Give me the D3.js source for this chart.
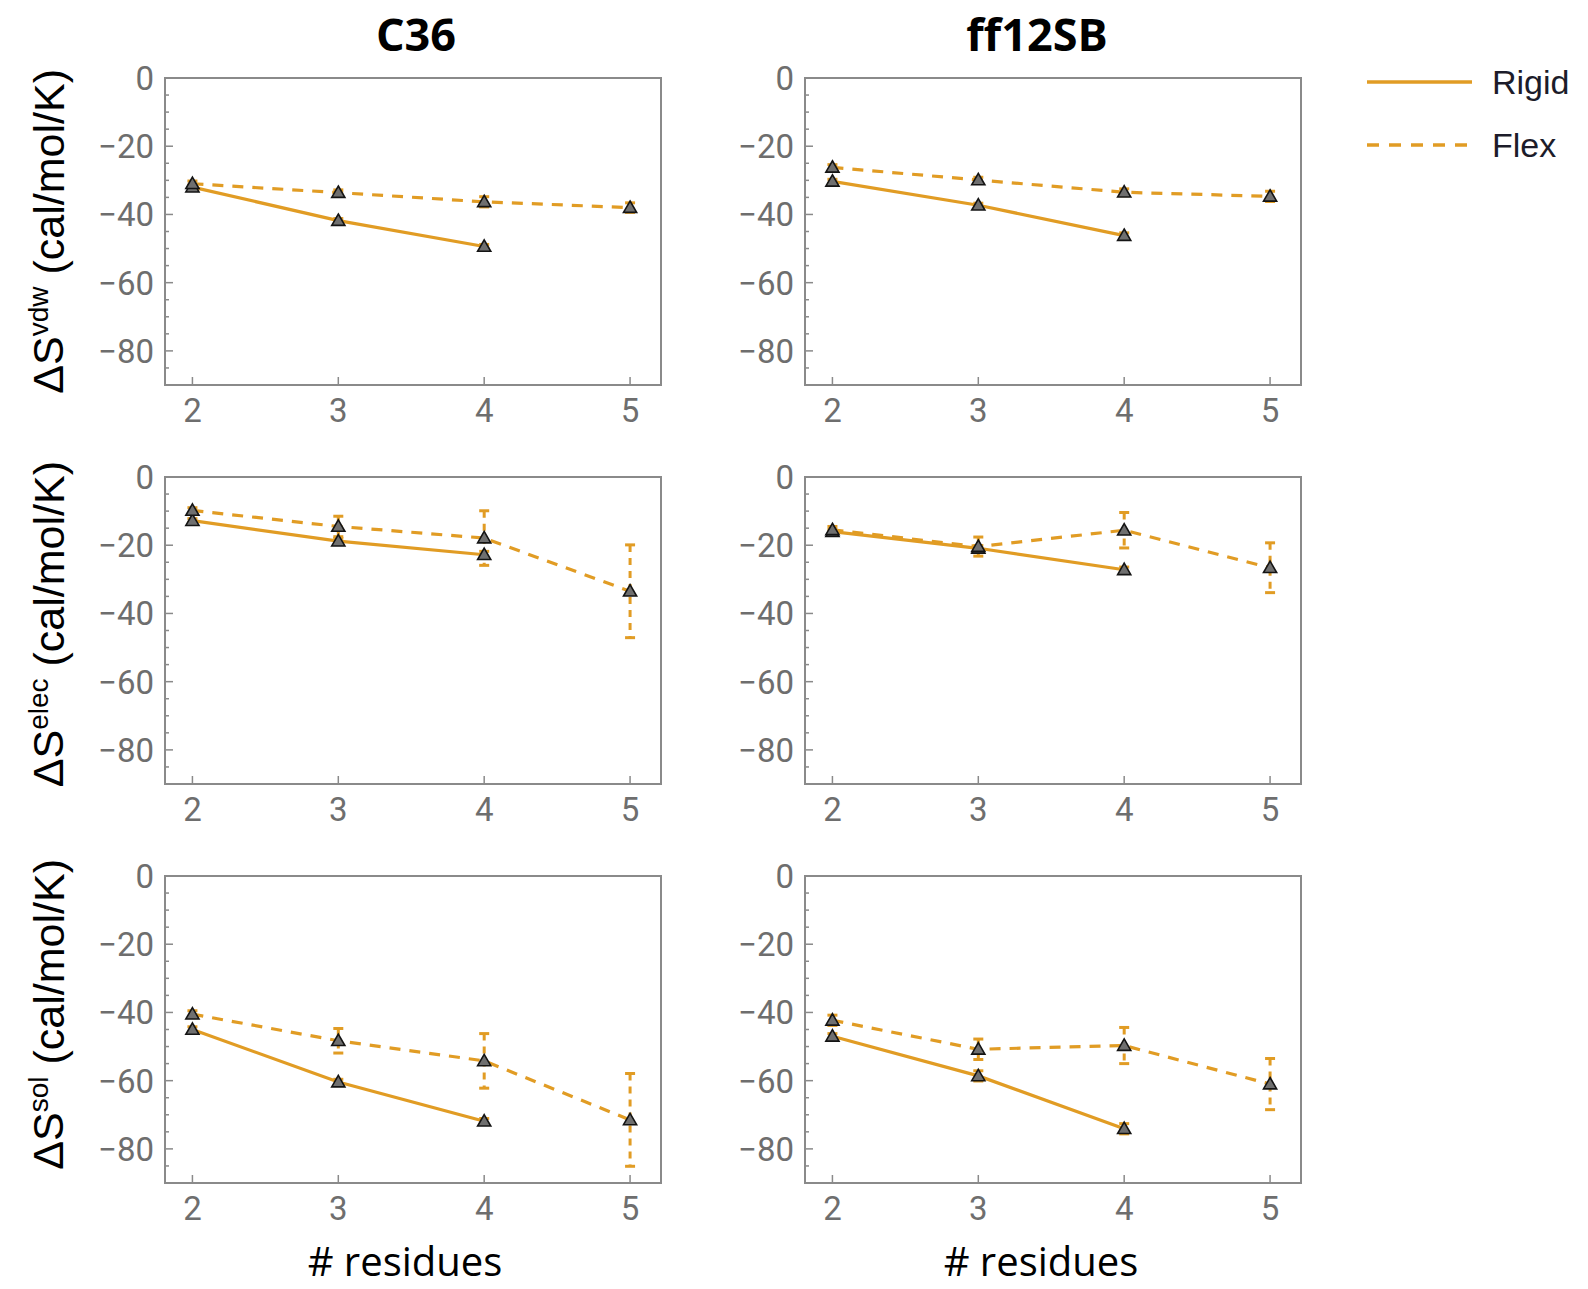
<!DOCTYPE html>
<html><head><meta charset="utf-8">
<script src="https://cdn.jsdelivr.net/npm/d3@7"></script>
<style>body{margin:0;background:#fff}</style>
</head><body><svg id="chart" width="1588" height="1289"></svg>
<script>
// Entropy components vs. peptide length for two force fields
const xTicks = [2, 3, 4, 5];
const rigidResidues = [2, 3, 4];
const flexResidues = [2, 3, 4, 5];
const forceFields = ["C36", "ff12SB"];
const terms = ["vdw", "elec", "sol"];
const yTicks = [0, -20, -40, -60, -80];
const seriesNames = ["Rigid", "Flex"];

// ΔS values in cal/mol/K: [C36, ff12SB]
const vdwRigid = [[-32.0, -41.8, -49.4], [-30.3, -37.3, -46.2]];
const vdwRigidErr = [[0.6, 0.6, 0.6], [0.6, 0.6, 0.8]];
const vdwFlex = [[-31.0, -33.6, -36.3, -38.0], [-26.2, -29.9, -33.5, -34.7]];
const vdwFlexErr = [[0.8, 0.8, 1.5, 1.4], [0.8, 0.8, 1.0, 1.5]];

const elecRigid = [[-12.8, -18.8, -22.8], [-16.0, -20.9, -27.2]];
const elecRigidErr = [[0.6, 0.8, 1.0], [0.6, 0.8, 0.8]];
const elecFlex = [[-9.8, -14.5, -17.9, -33.5], [-15.5, -20.4, -15.6, -26.6]];
const elecFlexErr = [[0.8, 3.0, 8.0, 13.6], [1.0, 2.8, 5.2, 7.3]];

const solRigid = [[-45.0, -60.4, -71.9], [-47.0, -58.6, -74.1]];
const solRigidErr = [[0.8, 0.8, 0.8], [0.8, 1.5, 1.5]];
const solFlex = [[-40.5, -48.3, -54.2, -71.5], [-42.3, -50.8, -49.7, -61.0]];
const solFlexErr = [[1.0, 3.6, 8.0, 13.6], [1.5, 3.0, 5.3, 7.5]];

const rigidData = [vdwRigid, elecRigid, solRigid];
const rigidErrData = [vdwRigidErr, elecRigidErr, solRigidErr];
const flexData = [vdwFlex, elecFlex, solFlex];
const flexErrData = [vdwFlexErr, elecFlexErr, solFlexErr];

const svg = d3.select("#chart");
const orange = "#E19C24";
const frameColor = "#8a8a8a";
const tickColor = "#6e6e6e";
const dash = "11,9";

const colLeft = [165, 805];
const panelW = 496;
const rowTop = [78, 477, 876];
const panelH = 307;
const labelTop = [69, 461, 859];
const titleX = [416, 1037];
const xTitleX = [405, 1041];

function drawPanel(row, col) {
  const x0 = colLeft[col], y0 = rowTop[row];
  const x = d3.scaleLinear().domain([1.812, 5.212]).range([x0, x0 + panelW]);
  const y = d3.scaleLinear().domain([-90, 0]).range([y0 + panelH, y0]);
  const g = svg.append("g");

  // minor y ticks
  const minor = d3.range(-85, 0, 5).filter(v => v % 20 !== 0);
  g.selectAll(".minor").data(minor).join("line")
    .attr("x1", x0).attr("x2", x0 + 4)
    .attr("y1", d => y(d)).attr("y2", d => y(d))
    .attr("stroke", frameColor).attr("stroke-width", 1.5);
  g.selectAll(".major").data(yTicks).join("line")
    .attr("x1", x0).attr("x2", x0 + 8)
    .attr("y1", d => y(d)).attr("y2", d => y(d))
    .attr("stroke", frameColor).attr("stroke-width", 1.5);
  g.selectAll(".xt").data(xTicks).join("line")
    .attr("x1", d => x(d)).attr("x2", d => x(d))
    .attr("y1", y0 + panelH).attr("y2", y0 + panelH - 8)
    .attr("stroke", frameColor).attr("stroke-width", 1.5);

  // tick labels
  g.selectAll(".yl").data(yTicks).join("text")
    .attr("x", x0 - 11).attr("y", d => y(d)).attr("dy", "0.36em")
    .attr("text-anchor", "end")
    .attr("font-family", "Roboto, sans-serif").attr("font-size", 33)
    .attr("fill", tickColor)
    .text(d => d === 0 ? "0" : "\u2212" + Math.abs(d));
  g.selectAll(".xl").data(xTicks).join("text")
    .attr("x", d => x(d)).attr("y", y0 + panelH + 37)
    .attr("text-anchor", "middle")
    .attr("font-family", "Roboto, sans-serif").attr("font-size", 33)
    .attr("fill", tickColor)
    .text(d => d);

  g.append("rect").attr("x", x0).attr("y", y0)
    .attr("width", panelW).attr("height", panelH)
    .attr("fill", "none").attr("stroke", frameColor).attr("stroke-width", 2);

  const series = [
    { xs: rigidResidues, ys: rigidData[row][col], es: rigidErrData[row][col], dash: null },
    { xs: flexResidues, ys: flexData[row][col], es: flexErrData[row][col], dash: dash }
  ];
  const line = d3.line().x(d => x(d[0])).y(d => y(d[1]));

  series.forEach(s => {
    const pts = s.xs.map((r, i) => [r, s.ys[i], s.es[i]]);
    g.append("path").datum(pts).attr("d", line)
      .attr("fill", "none").attr("stroke", orange).attr("stroke-width", 3.2)
      .attr("stroke-dasharray", s.dash);
    // error bars
    const eb = g.append("g");
    eb.selectAll("line.v").data(pts).join("line")
      .attr("x1", d => x(d[0])).attr("x2", d => x(d[0]))
      .attr("y1", d => y(d[1] + d[2])).attr("y2", d => y(d[1] - d[2]))
      .attr("stroke", orange).attr("stroke-width", 3)
      .attr("stroke-dasharray", s.dash ? "7,6" : null);
    [1, -1].forEach(sign => {
      eb.selectAll(null).data(pts).join("line")
        .attr("x1", d => x(d[0]) - 5).attr("x2", d => x(d[0]) + 5)
        .attr("y1", d => y(d[1] + sign * d[2])).attr("y2", d => y(d[1] + sign * d[2]))
        .attr("stroke", orange).attr("stroke-width", 3);
    });
  });
  // triangle markers on top
  const tri = d3.symbol().type(d3.symbolTriangle).size(75);
  series.forEach(s => {
    const pts = s.xs.map((r, i) => [r, s.ys[i]]);
    g.selectAll(null).data(pts).join("path")
      .attr("d", tri)
      .attr("transform", d => `translate(${x(d[0])},${y(d[1]) + 1})`)
      .attr("fill", "#6f6f6f").attr("stroke", "#141414").attr("stroke-width", 1.6);
  });
}

terms.forEach((t, r) => forceFields.forEach((f, c) => drawPanel(r, c)));

// column titles and x-axis titles
forceFields.forEach((f, c) => {
  svg.append("text")
    .attr("x", titleX[c]).attr("y", 51)
    .attr("text-anchor", "middle")
    .attr("font-family", "'Open Sans', sans-serif").attr("font-weight", 700)
    .attr("font-size", 45).attr("fill", "#000")
    .text(f);
  svg.append("text")
    .attr("x", xTitleX[c]).attr("y", 1276)
    .attr("text-anchor", "middle")
    .attr("font-family", "'Open Sans', sans-serif")
    .attr("font-size", 40).attr("fill", "#000")
    .text("# residues");
});

// y-axis titles
terms.forEach((t, r) => {
  const txt = svg.append("text")
    .attr("transform", `translate(63,${labelTop[r]}) rotate(-90)`)
    .attr("text-anchor", "end")
    .attr("font-family", "'Liberation Sans', Arial, sans-serif")
    .attr("font-size", 43).attr("fill", "#000");
  txt.append("tspan").text("\u0394S");
  txt.append("tspan").attr("font-size", 28).attr("dy", "-0.55em").text(t);
  txt.append("tspan").attr("dy", "0.385em").text(" (cal/mol/K)");
});

// legend
const legend = svg.append("g");
seriesNames.forEach((name, i) => {
  const ly = 82 + i * 63;
  legend.append("line")
    .attr("x1", 1367).attr("x2", 1472).attr("y1", ly).attr("y2", ly)
    .attr("stroke", orange).attr("stroke-width", 3.5)
    .attr("stroke-dasharray", i ? "12,10" : null);
  legend.append("text")
    .attr("x", 1492).attr("y", ly + 12)
    .attr("font-family", "'Liberation Sans', Arial, sans-serif")
    .attr("font-size", 34).attr("fill", "#1c1c2a")
    .text(name);
});
</script></body></html>
